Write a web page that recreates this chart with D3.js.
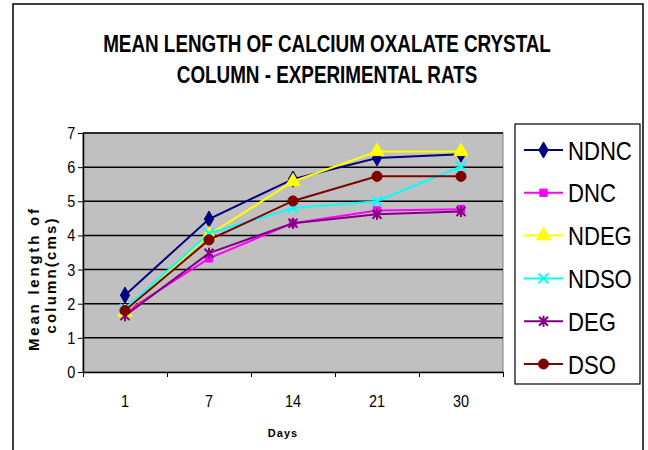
<!DOCTYPE html>
<html>
<head>
<meta charset="utf-8">
<script src="https://cdn.jsdelivr.net/npm/d3@7"></script>
<style>
  body { margin: 0; background: #fff; }
  text { font-family: "Liberation Sans", Arial, sans-serif; fill: #000; }
</style>
</head>
<body>
<svg id="chart" width="648" height="450"></svg>
<script>
// values
const days = ["1", "7", "14", "21", "30"];
const seriesNames = ["NDNC", "DNC", "NDEG", "NDSO", "DEG", "DSO"];
const NDNC = [2.25, 4.48, 5.65, 6.27, 6.38];
const DNC  = [1.75, 3.33, 4.36, 4.73, 4.77];
const NDEG = [1.75, 4.02, 5.58, 6.46, 6.46];
const NDSO = [1.85, 4.06, 4.80, 5.00, 6.02];
const DEG  = [1.65, 3.48, 4.36, 4.62, 4.70];
const DSO  = [1.80, 3.87, 5.01, 5.73, 5.73];
const yTicks = [0, 1, 2, 3, 4, 5, 6, 7];

const colors = ["#000080", "#ff00ff", "#ffff00", "#00ffff", "#800080", "#800000"];
const markers = ["diamond", "square", "triangle", "x", "star", "circle"];
const values = [NDNC, DNC, NDEG, NDSO, DEG, DSO];

let svg = d3.select("#chart");

// outer frame
svg.append("rect")
    .attr("x", 13).attr("y", 4)
    .attr("width", 630).attr("height", 460)
    .attr("fill", "#fff").attr("stroke", "#000").attr("stroke-width", 1.5);

let x0 = 83, x1 = 503, yTop = 133, yBot = 372;

let x = d3.scaleBand().domain(days).range([x0, x1]);
let xEdges = d3.scaleLinear().domain([0, days.length]).range([x0, x1]);
let y = d3.scaleLinear().domain([0, 7]).range([yBot, yTop]);

// plot area
svg.append("rect")
    .attr("x", x0).attr("y", yTop)
    .attr("width", x1 - x0).attr("height", yBot - yTop)
    .attr("fill", "#c0c0c0").attr("stroke", "#808080");

svg.append("g").selectAll("line")
    .data(yTicks.filter(d => d > 0))
    .join("line")
    .attr("x1", x0).attr("x2", x1)
    .attr("y1", d => y(d)).attr("y2", d => y(d))
    .attr("stroke", "#000").attr("stroke-width", 1.5);

// y axis
let gy = svg.append("g").attr("transform", `translate(${x0},0)`)
    .call(d3.axisLeft(y).tickValues(yTicks).tickFormat(d3.format("d"))
        .tickSize(5).tickSizeOuter(0).tickPadding(4));
gy.select(".domain").attr("stroke-width", 1.5);
gy.selectAll("text")
    .attr("font-size", 17)
    .attr("font-family", "Liberation Sans, Arial, sans-serif")
    .attr("transform", "scale(0.85,1)");

// x axis: ticks at category edges, labels at centres
let gxe = svg.append("g").attr("transform", `translate(0,${yBot})`)
    .call(d3.axisBottom(xEdges).ticks(days.length).tickFormat("").tickSize(5).tickSizeOuter(0));
gxe.select(".domain").attr("stroke-width", 1.5);

let gx = svg.append("g").attr("transform", `translate(0,${yBot})`)
    .call(d3.axisBottom(x).tickSize(0).tickPadding(23));
gx.select(".domain").remove();
gx.selectAll("text")
    .attr("font-size", 17)
    .attr("font-family", "Liberation Sans, Arial, sans-serif")
    .attr("transform", "scale(0.85,1)");

function markerPath(type) {
    if (type == "diamond") return d3.symbol(d3.symbolDiamond, 75)();
    if (type == "square") return d3.symbol(d3.symbolSquare, 55)();
    if (type == "triangle") return d3.symbol(d3.symbolTriangle, 90)();
    if (type == "circle") return d3.symbol(d3.symbolCircle, 80)();
    if (type == "x") return "M-5,-5L5,5M-5,5L5,-5";
    return "M-4.5,-4.5L4.5,4.5M-4.5,4.5L4.5,-4.5M0,-5.5L0,5.5";
}

let line = d3.line()
    .x((d, i) => x(days[i]) + x.bandwidth() / 2)
    .y(d => y(d));

values.forEach(function(vals, s) {
    let g = svg.append("g");
    g.append("path")
        .attr("d", line(vals))
        .attr("fill", "none")
        .attr("stroke", colors[s])
        .attr("stroke-width", 2);
    let open = markers[s] == "x" || markers[s] == "star";
    g.selectAll("path.m")
        .data(vals)
        .join("path")
        .attr("class", "m")
        .attr("transform", (d, i) => `translate(${x(days[i]) + x.bandwidth() / 2},${y(d)})`)
        .attr("d", markerPath(markers[s]))
        .attr("fill", open ? "none" : colors[s])
        .attr("stroke", colors[s])
        .attr("stroke-width", open ? 2 : 1);
});

// title, condensed horizontally like the original
let title = ["MEAN LENGTH OF CALCIUM OXALATE CRYSTAL", "COLUMN - EXPERIMENTAL RATS"];
title.forEach(function(t, i) {
    svg.append("text")
        .attr("transform", `translate(327,${52 + i * 31}) scale(0.82,1)`)
        .attr("text-anchor", "middle")
        .attr("font-size", 23)
        .attr("font-weight", "bold")
        .text(t);
});

// y axis title
let yTitle = ["Mean length of", "column(cms)"];
let yTitleLen = [142, 115];
let yTitleX = [39, 56];
let yTitleC = [280, 276];
yTitle.forEach(function(t, i) {
    svg.append("text")
        .attr("transform", `translate(${yTitleX[i]},${yTitleC[i] + yTitleLen[i] / 2}) rotate(-90)`)
        .attr("font-size", 15)
        .attr("font-weight", "bold")
        .attr("textLength", yTitleLen[i])
        .attr("lengthAdjust", "spacing")
        .text(t);
});

// x axis title
svg.append("text")
    .attr("x", 283).attr("y", 437)
    .attr("text-anchor", "middle")
    .attr("font-size", 11)
    .attr("font-weight", "bold")
    .attr("letter-spacing", 1)
    .text("Days");

// legend
let legend = svg.append("g");
legend.append("rect")
    .attr("x", 515).attr("y", 124)
    .attr("width", 125).attr("height", 260)
    .attr("fill", "#fff").attr("stroke", "#000").attr("stroke-width", 1.2);

let ly = d3.scalePoint().domain(seriesNames).range([150, 364]);

seriesNames.forEach(function(name, s) {
    let g = legend.append("g").attr("transform", `translate(0,${ly(name)})`);
    g.append("line")
        .attr("x1", 524).attr("x2", 563)
        .attr("stroke", colors[s]).attr("stroke-width", 2);
    let open = markers[s] == "x" || markers[s] == "star";
    g.append("path")
        .attr("transform", "translate(543.5,0)")
        .attr("d", markerPath(markers[s]))
        .attr("fill", open ? "none" : colors[s])
        .attr("stroke", colors[s])
        .attr("stroke-width", open ? 2 : 1);
    g.append("text")
        .attr("transform", "translate(568,9.5) scale(0.85,1)")
        .attr("font-size", 26)
        .text(name);
});
</script>
</body>
</html>
